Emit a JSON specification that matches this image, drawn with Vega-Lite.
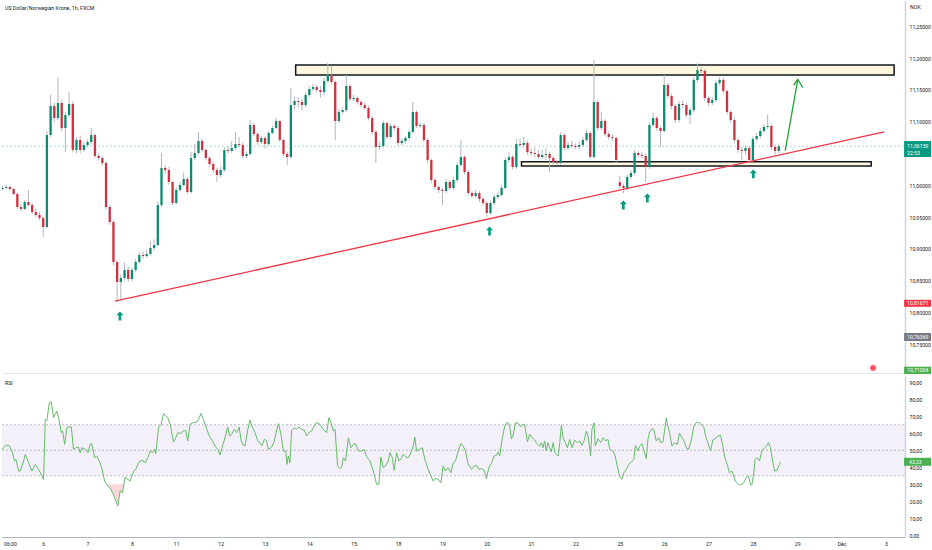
{
  "$schema": "https://vega.github.io/schema/vega-lite/v6.json",
  "padding": 0,
  "background": "#ffffff",
  "spacing": 1,
  "config": {
    "view": {"stroke": null},
    "font": "Roboto",
    "axis": {"grid": false, "ticks": false, "labelFontSize": 5.2, "labelColor": "#131722", "title": null}
  },
  "datasets": {
    "candles": [
      {"t":-4,"o":10.9942,"h":10.999,"l":10.992,"c":10.9958},
      {"t":-2,"o":10.9958,"h":11.001,"l":10.994,"c":10.9974},
      {"t":0,"o":10.9974,"h":10.9995,"l":10.992,"c":10.9942},
      {"t":2,"o":10.9942,"h":10.996,"l":10.984,"c":10.9864},
      {"t":4,"o":10.9864,"h":10.988,"l":10.963,"c":10.9659},
      {"t":6,"o":10.9659,"h":10.97,"l":10.959,"c":10.9628},
      {"t":8,"o":10.9628,"h":10.977,"l":10.961,"c":10.9738},
      {"t":10,"o":10.9738,"h":10.9927,"l":10.967,"c":10.9691},
      {"t":12,"o":10.9691,"h":10.972,"l":10.955,"c":10.9581},
      {"t":14,"o":10.9581,"h":10.964,"l":10.95,"c":10.9533},
      {"t":16,"o":10.9533,"h":10.958,"l":10.945,"c":10.9486},
      {"t":18,"o":10.9486,"h":10.951,"l":10.9188,"c":10.9345},
      {"t":20,"o":10.9345,"h":11.085,"l":10.932,"c":11.0791},
      {"t":22,"o":11.0791,"h":11.142,"l":11.076,"c":11.1247},
      {"t":24,"o":11.1247,"h":11.13,"l":11.099,"c":11.1059},
      {"t":26,"o":11.1059,"h":11.1703,"l":11.102,"c":11.1295},
      {"t":28,"o":11.1295,"h":11.134,"l":11.085,"c":11.0901},
      {"t":30,"o":11.0901,"h":11.115,"l":11.0524,"c":11.1106},
      {"t":32,"o":11.1106,"h":11.1467,"l":11.107,"c":11.1279},
      {"t":34,"o":11.1279,"h":11.132,"l":11.052,"c":11.0556},
      {"t":36,"o":11.0556,"h":11.076,"l":11.05,"c":11.0713},
      {"t":38,"o":11.0713,"h":11.078,"l":11.051,"c":11.0556},
      {"t":40,"o":11.0556,"h":11.068,"l":11.053,"c":11.0634},
      {"t":42,"o":11.0634,"h":11.072,"l":11.06,"c":11.0681},
      {"t":44,"o":11.0681,"h":11.0901,"l":11.065,"c":11.0791},
      {"t":46,"o":11.0791,"h":11.081,"l":11.043,"c":11.0461},
      {"t":48,"o":11.0461,"h":11.05,"l":11.039,"c":11.043},
      {"t":50,"o":11.043,"h":11.046,"l":11.031,"c":11.0351},
      {"t":52,"o":11.0351,"h":11.037,"l":10.962,"c":10.9659},
      {"t":54,"o":10.9659,"h":10.969,"l":10.938,"c":10.9423},
      {"t":56,"o":10.9423,"h":10.945,"l":10.874,"c":10.8795},
      {"t":58,"o":10.8795,"h":10.882,"l":10.8167,"c":10.848},
      {"t":60,"o":10.848,"h":10.86,"l":10.8197,"c":10.8543},
      {"t":62,"o":10.8543,"h":10.879,"l":10.85,"c":10.8669},
      {"t":64,"o":10.8669,"h":10.872,"l":10.848,"c":10.8527},
      {"t":66,"o":10.8527,"h":10.871,"l":10.849,"c":10.8669},
      {"t":68,"o":10.8669,"h":10.884,"l":10.864,"c":10.8795},
      {"t":70,"o":10.8795,"h":10.895,"l":10.877,"c":10.8905},
      {"t":72,"o":10.8905,"h":10.896,"l":10.885,"c":10.8889},
      {"t":74,"o":10.8889,"h":10.899,"l":10.886,"c":10.892},
      {"t":76,"o":10.892,"h":10.912,"l":10.889,"c":10.9015},
      {"t":78,"o":10.9015,"h":10.915,"l":10.898,"c":10.9062},
      {"t":80,"o":10.9062,"h":10.974,"l":10.904,"c":10.9691},
      {"t":82,"o":10.9691,"h":11.0508,"l":10.966,"c":11.0272},
      {"t":84,"o":11.0272,"h":11.032,"l":11.018,"c":11.0241},
      {"t":86,"o":11.0241,"h":11.029,"l":11.001,"c":11.0052},
      {"t":88,"o":11.0052,"h":11.008,"l":10.969,"c":10.9722},
      {"t":90,"o":10.9722,"h":10.997,"l":10.97,"c":10.9927},
      {"t":92,"o":10.9927,"h":11.006,"l":10.99,"c":11.0005},
      {"t":94,"o":11.0005,"h":11.02,"l":10.998,"c":11.01},
      {"t":96,"o":11.01,"h":11.013,"l":10.986,"c":10.9895},
      {"t":98,"o":10.9895,"h":11.052,"l":10.987,"c":11.043},
      {"t":100,"o":11.043,"h":11.065,"l":11.039,"c":11.0508},
      {"t":102,"o":11.0508,"h":11.0839,"l":11.048,"c":11.0697},
      {"t":104,"o":11.0697,"h":11.073,"l":11.052,"c":11.0556},
      {"t":106,"o":11.0556,"h":11.059,"l":11.039,"c":11.043},
      {"t":108,"o":11.043,"h":11.046,"l":11.029,"c":11.0335},
      {"t":110,"o":11.0335,"h":11.037,"l":11.02,"c":11.0241},
      {"t":112,"o":11.0241,"h":11.028,"l":11.0052,"c":11.0162},
      {"t":114,"o":11.0162,"h":11.029,"l":11.013,"c":11.0241},
      {"t":116,"o":11.0241,"h":11.06,"l":11.021,"c":11.0556},
      {"t":118,"o":11.0556,"h":11.062,"l":11.05,"c":11.054},
      {"t":120,"o":11.054,"h":11.07,"l":11.051,"c":11.0587},
      {"t":122,"o":11.0587,"h":11.0839,"l":11.056,"c":11.065},
      {"t":124,"o":11.065,"h":11.076,"l":11.06,"c":11.0634},
      {"t":126,"o":11.0634,"h":11.067,"l":11.042,"c":11.0461},
      {"t":128,"o":11.0461,"h":11.053,"l":11.043,"c":11.0493},
      {"t":130,"o":11.0493,"h":11.1027,"l":11.047,"c":11.0949},
      {"t":132,"o":11.0949,"h":11.098,"l":11.077,"c":11.0807},
      {"t":134,"o":11.0807,"h":11.084,"l":11.064,"c":11.0681},
      {"t":136,"o":11.0681,"h":11.078,"l":11.065,"c":11.0744},
      {"t":138,"o":11.0744,"h":11.077,"l":11.058,"c":11.065},
      {"t":140,"o":11.065,"h":11.086,"l":11.062,"c":11.0823},
      {"t":142,"o":11.0823,"h":11.094,"l":11.08,"c":11.0901},
      {"t":144,"o":11.0901,"h":11.106,"l":11.088,"c":11.1011},
      {"t":146,"o":11.1011,"h":11.103,"l":11.068,"c":11.0713},
      {"t":148,"o":11.0713,"h":11.074,"l":11.046,"c":11.0493},
      {"t":150,"o":11.0493,"h":11.053,"l":11.032,"c":11.0445},
      {"t":152,"o":11.0445,"h":11.153,"l":11.042,"c":11.1263},
      {"t":154,"o":11.1263,"h":11.14,"l":11.12,"c":11.1326},
      {"t":156,"o":11.1326,"h":11.138,"l":11.122,"c":11.131},
      {"t":158,"o":11.131,"h":11.136,"l":11.118,"c":11.1263},
      {"t":160,"o":11.1263,"h":11.146,"l":11.123,"c":11.142},
      {"t":162,"o":11.142,"h":11.156,"l":11.139,"c":11.1515},
      {"t":164,"o":11.1515,"h":11.16,"l":11.148,"c":11.1546},
      {"t":166,"o":11.1546,"h":11.158,"l":11.146,"c":11.1499},
      {"t":168,"o":11.1499,"h":11.156,"l":11.138,"c":11.1467},
      {"t":170,"o":11.1467,"h":11.17,"l":11.142,"c":11.164},
      {"t":172,"o":11.164,"h":11.1923,"l":11.161,"c":11.1735},
      {"t":174,"o":11.1735,"h":11.188,"l":11.159,"c":11.1625},
      {"t":176,"o":11.1625,"h":11.165,"l":11.0713,"c":11.1011},
      {"t":178,"o":11.1011,"h":11.12,"l":11.098,"c":11.1153},
      {"t":180,"o":11.1153,"h":11.123,"l":11.112,"c":11.1184},
      {"t":182,"o":11.1184,"h":11.1735,"l":11.115,"c":11.1562},
      {"t":184,"o":11.1562,"h":11.159,"l":11.132,"c":11.1357},
      {"t":186,"o":11.1357,"h":11.142,"l":11.132,"c":11.1373},
      {"t":188,"o":11.1373,"h":11.14,"l":11.127,"c":11.131},
      {"t":190,"o":11.131,"h":11.134,"l":11.123,"c":11.1263},
      {"t":192,"o":11.1263,"h":11.13,"l":11.118,"c":11.1216},
      {"t":194,"o":11.1216,"h":11.125,"l":11.102,"c":11.1059},
      {"t":196,"o":11.1059,"h":11.109,"l":11.08,"c":11.0839},
      {"t":198,"o":11.0839,"h":11.087,"l":11.0351,"c":11.0603},
      {"t":200,"o":11.0603,"h":11.068,"l":11.056,"c":11.0618},
      {"t":202,"o":11.0618,"h":11.102,"l":11.059,"c":11.098},
      {"t":204,"o":11.098,"h":11.1,"l":11.072,"c":11.076},
      {"t":206,"o":11.076,"h":11.098,"l":11.073,"c":11.0933},
      {"t":208,"o":11.0933,"h":11.096,"l":11.086,"c":11.0901},
      {"t":210,"o":11.0901,"h":11.093,"l":11.062,"c":11.0666},
      {"t":212,"o":11.0666,"h":11.074,"l":11.063,"c":11.0697},
      {"t":214,"o":11.0697,"h":11.078,"l":11.066,"c":11.0744},
      {"t":216,"o":11.0744,"h":11.088,"l":11.071,"c":11.0839},
      {"t":218,"o":11.0839,"h":11.131,"l":11.081,"c":11.1153},
      {"t":220,"o":11.1153,"h":11.118,"l":11.09,"c":11.0933},
      {"t":222,"o":11.0933,"h":11.099,"l":11.09,"c":11.0949},
      {"t":224,"o":11.0949,"h":11.098,"l":11.068,"c":11.0713},
      {"t":226,"o":11.0713,"h":11.074,"l":11.035,"c":11.0398},
      {"t":228,"o":11.0398,"h":11.042,"l":11.004,"c":11.0084},
      {"t":230,"o":11.0084,"h":11.011,"l":10.993,"c":10.9974},
      {"t":232,"o":10.9974,"h":11.0,"l":10.988,"c":10.9927},
      {"t":234,"o":10.9927,"h":10.996,"l":10.9691,"c":10.9911},
      {"t":236,"o":10.9911,"h":11.01,"l":10.988,"c":11.0052},
      {"t":238,"o":11.0052,"h":11.008,"l":10.992,"c":10.9958},
      {"t":240,"o":10.9958,"h":11.013,"l":10.993,"c":11.0084},
      {"t":242,"o":11.0084,"h":11.036,"l":11.005,"c":11.032},
      {"t":244,"o":11.032,"h":11.0713,"l":11.029,"c":11.0445},
      {"t":246,"o":11.0445,"h":11.048,"l":11.017,"c":11.021},
      {"t":248,"o":11.021,"h":11.024,"l":10.984,"c":10.9879},
      {"t":250,"o":10.9879,"h":10.991,"l":10.979,"c":10.9832},
      {"t":252,"o":10.9832,"h":10.993,"l":10.98,"c":10.9879},
      {"t":254,"o":10.9879,"h":10.991,"l":10.974,"c":10.9785},
      {"t":256,"o":10.9785,"h":10.982,"l":10.968,"c":10.9722},
      {"t":258,"o":10.9722,"h":10.975,"l":10.9502,"c":10.9565},
      {"t":260,"o":10.9565,"h":10.976,"l":10.953,"c":10.9722},
      {"t":262,"o":10.9722,"h":10.986,"l":10.969,"c":10.9817},
      {"t":264,"o":10.9817,"h":10.989,"l":10.978,"c":10.9848},
      {"t":266,"o":10.9848,"h":11.0,"l":10.982,"c":10.9958},
      {"t":268,"o":10.9958,"h":11.044,"l":10.993,"c":11.0398},
      {"t":270,"o":11.0398,"h":11.052,"l":11.036,"c":11.0445},
      {"t":272,"o":11.0445,"h":11.048,"l":11.025,"c":11.0288},
      {"t":274,"o":11.0288,"h":11.073,"l":11.026,"c":11.065},
      {"t":276,"o":11.065,"h":11.074,"l":11.06,"c":11.0634},
      {"t":278,"o":11.0634,"h":11.076,"l":11.06,"c":11.0666},
      {"t":280,"o":11.0666,"h":11.07,"l":11.048,"c":11.0524},
      {"t":282,"o":11.0524,"h":11.058,"l":11.046,"c":11.0508},
      {"t":284,"o":11.0508,"h":11.06,"l":11.045,"c":11.0493},
      {"t":286,"o":11.0493,"h":11.056,"l":11.041,"c":11.0445},
      {"t":288,"o":11.0445,"h":11.056,"l":11.042,"c":11.0477},
      {"t":290,"o":11.0477,"h":11.058,"l":11.04,"c":11.0493},
      {"t":292,"o":11.0493,"h":11.053,"l":11.021,"c":11.043},
      {"t":294,"o":11.043,"h":11.046,"l":11.033,"c":11.0367},
      {"t":296,"o":11.0367,"h":11.04,"l":11.031,"c":11.0351},
      {"t":298,"o":11.0351,"h":11.084,"l":11.032,"c":11.0791},
      {"t":300,"o":11.0791,"h":11.082,"l":11.055,"c":11.0587},
      {"t":302,"o":11.0587,"h":11.068,"l":11.056,"c":11.0634},
      {"t":304,"o":11.0634,"h":11.07,"l":11.059,"c":11.0618},
      {"t":306,"o":11.0618,"h":11.066,"l":11.057,"c":11.0603},
      {"t":308,"o":11.0603,"h":11.069,"l":11.057,"c":11.0634},
      {"t":310,"o":11.0634,"h":11.076,"l":11.06,"c":11.0713},
      {"t":312,"o":11.0713,"h":11.088,"l":11.068,"c":11.0823},
      {"t":314,"o":11.0823,"h":11.085,"l":11.041,"c":11.0445},
      {"t":316,"o":11.0445,"h":11.1971,"l":11.042,"c":11.131},
      {"t":318,"o":11.131,"h":11.134,"l":11.086,"c":11.0901},
      {"t":320,"o":11.0901,"h":11.115,"l":11.087,"c":11.1011},
      {"t":322,"o":11.1011,"h":11.104,"l":11.077,"c":11.0807},
      {"t":324,"o":11.0807,"h":11.085,"l":11.072,"c":11.076},
      {"t":326,"o":11.076,"h":11.08,"l":11.07,"c":11.0744},
      {"t":328,"o":11.0744,"h":11.077,"l":11.036,"c":11.0398},
      {"t":330,"o":11.005,"h":11.015,"l":10.995,"c":10.9989},
      {"t":332,"o":10.9989,"h":11.003,"l":10.9879,"c":10.9958},
      {"t":334,"o":10.9958,"h":11.017,"l":10.993,"c":11.0131},
      {"t":336,"o":11.0131,"h":11.024,"l":11.01,"c":11.0194},
      {"t":338,"o":11.0194,"h":11.056,"l":11.017,"c":11.0508},
      {"t":340,"o":11.0508,"h":11.054,"l":11.044,"c":11.0477},
      {"t":342,"o":11.0477,"h":11.052,"l":11.042,"c":11.0461},
      {"t":344,"o":11.0461,"h":11.05,"l":11.0052,"c":11.0288},
      {"t":346,"o":11.0288,"h":11.099,"l":11.026,"c":11.0949},
      {"t":348,"o":11.0949,"h":11.114,"l":11.092,"c":11.1059},
      {"t":350,"o":11.1059,"h":11.109,"l":11.086,"c":11.0901},
      {"t":352,"o":11.0901,"h":11.093,"l":11.0603,"c":11.0854},
      {"t":354,"o":11.0854,"h":11.1735,"l":11.083,"c":11.1578},
      {"t":356,"o":11.1578,"h":11.161,"l":11.136,"c":11.1405},
      {"t":358,"o":11.1405,"h":11.144,"l":11.12,"c":11.1247},
      {"t":360,"o":11.1247,"h":11.128,"l":11.098,"c":11.1027},
      {"t":362,"o":11.1027,"h":11.133,"l":11.099,"c":11.1279},
      {"t":364,"o":11.1279,"h":11.133,"l":11.122,"c":11.1263},
      {"t":366,"o":11.1263,"h":11.13,"l":11.106,"c":11.1106},
      {"t":368,"o":11.1106,"h":11.122,"l":11.0964,"c":11.1184},
      {"t":370,"o":11.1184,"h":11.17,"l":11.115,"c":11.1656},
      {"t":372,"o":11.1656,"h":11.1923,"l":11.162,"c":11.1813},
      {"t":374,"o":11.1813,"h":11.186,"l":11.176,"c":11.1798},
      {"t":376,"o":11.1798,"h":11.183,"l":11.133,"c":11.1373},
      {"t":378,"o":11.1373,"h":11.14,"l":11.125,"c":11.1295},
      {"t":380,"o":11.1295,"h":11.139,"l":11.126,"c":11.1342},
      {"t":382,"o":11.1342,"h":11.165,"l":11.131,"c":11.1609},
      {"t":384,"o":11.1609,"h":11.17,"l":11.157,"c":11.1656},
      {"t":386,"o":11.1656,"h":11.169,"l":11.144,"c":11.1483},
      {"t":388,"o":11.1483,"h":11.151,"l":11.111,"c":11.1153},
      {"t":390,"o":11.1153,"h":11.118,"l":11.098,"c":11.1027},
      {"t":392,"o":11.1027,"h":11.106,"l":11.066,"c":11.0713},
      {"t":394,"o":11.0713,"h":11.075,"l":11.051,"c":11.0556},
      {"t":396,"o":11.0556,"h":11.06,"l":11.0398,"c":11.054},
      {"t":398,"o":11.054,"h":11.063,"l":11.048,"c":11.0587},
      {"t":400,"o":11.0587,"h":11.062,"l":11.0351,"c":11.0398},
      {"t":402,"o":11.0398,"h":11.077,"l":11.037,"c":11.0728},
      {"t":404,"o":11.0728,"h":11.082,"l":11.069,"c":11.0776},
      {"t":406,"o":11.0776,"h":11.09,"l":11.074,"c":11.0854},
      {"t":408,"o":11.0854,"h":11.096,"l":11.082,"c":11.0917},
      {"t":410,"o":11.0917,"h":11.1106,"l":11.088,"c":11.0933},
      {"t":412,"o":11.0933,"h":11.096,"l":11.056,"c":11.0603},
      {"t":414,"o":11.0603,"h":11.064,"l":11.048,"c":11.054},
      {"t":416,"o":11.054,"h":11.066,"l":11.05,"c":11.0616}
    ],
    "rsi": [
      {"t":-4.3,"r":50.6},{"t":-2.5,"r":52.5},{"t":-0.7,"r":53.1},{"t":1.1,"r":49.6},{"t":2.5,"r":43.7},{"t":3.2,"r":44.7},{"t":4.7,"r":37.8},{"t":5.6,"r":37.8},{"t":7.4,"r":43.7},{"t":8.3,"r":47.6},
      {"t":10.1,"r":42.7},{"t":11.9,"r":37.8},{"t":13.7,"r":41.7},{"t":15.5,"r":38.8},{"t":17.3,"r":34.9},{"t":18.2,"r":32.9},{"t":19.1,"r":68.2},{"t":20.0,"r":67.6},{"t":21.3,"r":78.0},{"t":22.3,"r":78.6},
      {"t":23.6,"r":69.2},{"t":24.5,"r":71.2},{"t":25.4,"r":73.1},{"t":26.3,"r":69.2},{"t":27.8,"r":60.4},{"t":28.5,"r":61.4},{"t":29.6,"r":53.5},{"t":30.8,"r":63.3},{"t":31.7,"r":63.7},{"t":33.2,"r":63.7},
      {"t":34.4,"r":50.6},{"t":35.7,"r":51.5},{"t":37.1,"r":51.9},{"t":38.0,"r":48.6},{"t":38.9,"r":51.5},{"t":40.7,"r":50.6},{"t":42.2,"r":48.6},{"t":43.4,"r":53.5},{"t":44.3,"r":53.9},{"t":45.8,"r":45.6},
      {"t":47.0,"r":46.6},{"t":48.3,"r":43.7},{"t":49.7,"r":39.8},{"t":51.2,"r":31.9},{"t":53.0,"r":29.0},{"t":54.2,"r":28.0},{"t":55.5,"r":25.1},{"t":56.9,"r":21.2},{"t":58.4,"r":17.2},{"t":59.6,"r":26.1},
      {"t":60.9,"r":25.1},{"t":62.3,"r":34.3},{"t":63.8,"r":32.9},{"t":65.0,"r":31.9},{"t":66.9,"r":37.8},{"t":68.1,"r":38.8},{"t":69.9,"r":43.3},{"t":71.4,"r":44.1},{"t":73.2,"r":42.7},{"t":74.6,"r":45.6},
      {"t":75.9,"r":49.6},{"t":77.1,"r":48.6},{"t":78.2,"r":50.6},{"t":78.9,"r":48.0},{"t":80.4,"r":63.3},{"t":81.8,"r":65.3},{"t":83.1,"r":71.6},{"t":84.3,"r":70.2},{"t":85.4,"r":69.2},{"t":86.7,"r":65.3},
      {"t":88.5,"r":54.9},{"t":89.4,"r":56.5},{"t":90.8,"r":60.4},{"t":92.1,"r":59.8},{"t":93.9,"r":61.4},{"t":95.1,"r":61.7},{"t":96.2,"r":55.5},{"t":97.5,"r":65.3},{"t":99.3,"r":66.3},{"t":101.1,"r":66.6},
      {"t":102.0,"r":68.2},{"t":103.4,"r":71.6},{"t":104.7,"r":68.2},{"t":106.5,"r":62.3},{"t":108.3,"r":57.4},{"t":109.6,"r":55.5},{"t":111.0,"r":52.5},{"t":112.4,"r":50.6},{"t":113.7,"r":47.2},{"t":115.0,"r":52.5},
      {"t":116.4,"r":57.4},{"t":117.8,"r":63.7},{"t":118.9,"r":58.4},{"t":120.0,"r":59.4},{"t":121.4,"r":62.3},{"t":122.7,"r":60.4},{"t":124.0,"r":63.7},{"t":125.1,"r":55.5},{"t":126.1,"r":53.1},{"t":127.2,"r":52.5},
      {"t":128.7,"r":62.3},{"t":129.9,"r":67.8},{"t":131.2,"r":63.3},{"t":132.6,"r":60.4},{"t":134.1,"r":55.5},{"t":135.3,"r":54.5},{"t":136.2,"r":52.5},{"t":137.7,"r":56.5},{"t":138.9,"r":55.5},{"t":139.8,"r":50.6},
      {"t":141.6,"r":51.9},{"t":143.1,"r":55.5},{"t":144.0,"r":60.4},{"t":145.2,"r":65.7},{"t":146.7,"r":59.4},{"t":147.9,"r":49.6},{"t":149.2,"r":49.6},{"t":149.9,"r":41.7},{"t":150.6,"r":46.6},{"t":151.5,"r":42.7},
      {"t":152.4,"r":61.7},{"t":153.9,"r":63.3},{"t":155.1,"r":62.3},{"t":156.4,"r":63.7},{"t":157.8,"r":62.3},{"t":159.3,"r":61.9},{"t":160.5,"r":58.4},{"t":161.8,"r":60.4},{"t":163.2,"r":61.4},{"t":164.7,"r":64.3},
      {"t":165.9,"r":66.3},{"t":167.7,"r":65.3},{"t":169.5,"r":62.3},{"t":171.4,"r":60.4},{"t":172.6,"r":69.2},{"t":173.7,"r":66.3},{"t":175.0,"r":61.4},{"t":175.9,"r":62.3},{"t":177.3,"r":40.8},{"t":178.6,"r":39.2},
      {"t":179.5,"r":40.2},{"t":180.4,"r":45.6},{"t":181.6,"r":43.7},{"t":183.1,"r":57.4},{"t":184.5,"r":51.5},{"t":185.8,"r":53.5},{"t":187.0,"r":53.9},{"t":188.5,"r":49.6},{"t":190.3,"r":49.6},{"t":191.7,"r":50.6},
      {"t":193.0,"r":46.1},{"t":194.8,"r":43.7},{"t":196.6,"r":37.8},{"t":198.4,"r":30.0},{"t":199.6,"r":30.0},{"t":200.7,"r":46.1},{"t":202.0,"r":39.8},{"t":203.2,"r":40.8},{"t":204.7,"r":43.7},{"t":205.6,"r":48.6},
      {"t":206.9,"r":45.6},{"t":207.9,"r":38.2},{"t":209.2,"r":48.6},{"t":210.5,"r":43.7},{"t":211.5,"r":44.7},{"t":212.8,"r":47.6},{"t":214.1,"r":46.1},{"t":215.5,"r":45.6},{"t":217.0,"r":48.6},{"t":218.2,"r":52.5},
      {"t":219.1,"r":57.8},{"t":220.0,"r":49.6},{"t":221.8,"r":50.6},{"t":223.1,"r":51.5},{"t":224.5,"r":44.7},{"t":226.3,"r":38.8},{"t":227.8,"r":34.9},{"t":229.0,"r":31.9},{"t":230.3,"r":33.5},{"t":231.7,"r":32.9},
      {"t":233.2,"r":31.0},{"t":234.4,"r":40.8},{"t":235.7,"r":37.8},{"t":237.1,"r":39.8},{"t":238.6,"r":36.9},{"t":239.8,"r":42.7},{"t":241.1,"r":43.7},{"t":242.5,"r":49.6},{"t":244.0,"r":53.9},{"t":245.2,"r":52.5},
      {"t":246.5,"r":49.6},{"t":247.9,"r":42.1},{"t":249.7,"r":38.8},{"t":251.2,"r":40.8},{"t":252.4,"r":41.2},{"t":253.7,"r":38.8},{"t":255.1,"r":39.2},{"t":256.6,"r":38.2},{"t":257.8,"r":33.3},{"t":259.1,"r":39.8},
      {"t":260.5,"r":42.3},{"t":262.0,"r":46.6},{"t":263.2,"r":47.0},{"t":264.1,"r":49.0},{"t":265.0,"r":46.6},{"t":266.3,"r":56.4},{"t":267.7,"r":64.3},{"t":269.2,"r":66.6},{"t":270.4,"r":64.3},{"t":271.3,"r":56.8},
      {"t":272.2,"r":58.4},{"t":273.5,"r":66.2},{"t":274.9,"r":65.9},{"t":276.4,"r":63.9},{"t":277.6,"r":65.3},{"t":278.5,"r":65.3},{"t":280.0,"r":54.9},{"t":281.2,"r":59.4},{"t":282.5,"r":57.4},{"t":283.9,"r":56.0},
      {"t":285.4,"r":53.5},{"t":286.6,"r":52.5},{"t":287.5,"r":54.5},{"t":288.4,"r":51.5},{"t":289.3,"r":55.5},{"t":290.2,"r":49.6},{"t":291.1,"r":54.5},{"t":292.1,"r":51.5},{"t":292.9,"r":49.0},{"t":293.9,"r":54.5},
      {"t":294.8,"r":48.6},{"t":295.6,"r":47.6},{"t":296.6,"r":46.6},{"t":297.5,"r":54.5},{"t":298.4,"r":64.7},{"t":299.3,"r":57.4},{"t":300.5,"r":54.5},{"t":301.6,"r":51.5},{"t":302.9,"r":56.4},{"t":304.1,"r":51.5},
      {"t":305.6,"r":56.0},{"t":307.0,"r":54.5},{"t":308.3,"r":55.5},{"t":309.5,"r":52.9},{"t":310.6,"r":55.5},{"t":311.9,"r":61.3},{"t":312.8,"r":58.4},{"t":314.2,"r":46.6},{"t":314.9,"r":62.3},{"t":316.0,"r":66.2},
      {"t":316.7,"r":52.5},{"t":318.2,"r":56.8},{"t":319.6,"r":54.5},{"t":320.9,"r":57.4},{"t":322.1,"r":55.5},{"t":323.6,"r":56.4},{"t":324.5,"r":50.6},{"t":326.3,"r":49.6},{"t":327.5,"r":46.6},{"t":328.6,"r":40.8},
      {"t":329.9,"r":34.9},{"t":331.1,"r":32.9},{"t":332.2,"r":36.8},{"t":333.5,"r":38.8},{"t":334.8,"r":41.7},{"t":336.2,"r":43.1},{"t":337.6,"r":44.7},{"t":338.4,"r":52.9},{"t":339.8,"r":49.6},{"t":340.7,"r":52.5},
      {"t":342.0,"r":53.9},{"t":343.0,"r":50.2},{"t":344.3,"r":45.1},{"t":345.2,"r":56.4},{"t":346.1,"r":60.8},{"t":347.4,"r":62.7},{"t":348.4,"r":62.3},{"t":349.7,"r":55.5},{"t":351.0,"r":57.4},{"t":352.1,"r":54.5},
      {"t":353.3,"r":54.9},{"t":354.2,"r":61.3},{"t":355.1,"r":69.0},{"t":356.0,"r":64.3},{"t":356.9,"r":60.4},{"t":358.2,"r":52.5},{"t":359.6,"r":54.5},{"t":361.1,"r":53.5},{"t":362.3,"r":60.0},{"t":363.6,"r":57.4},
      {"t":365.0,"r":54.9},{"t":365.9,"r":51.5},{"t":367.2,"r":50.6},{"t":368.6,"r":55.5},{"t":370.1,"r":64.3},{"t":371.3,"r":66.2},{"t":372.6,"r":66.6},{"t":374.0,"r":65.3},{"t":375.5,"r":63.3},{"t":376.2,"r":59.4},
      {"t":377.6,"r":54.5},{"t":379.1,"r":49.6},{"t":380.3,"r":56.0},{"t":381.6,"r":56.8},{"t":383.0,"r":58.4},{"t":384.5,"r":58.8},{"t":385.7,"r":52.5},{"t":386.6,"r":46.6},{"t":388.1,"r":41.7},{"t":389.3,"r":36.8},
      {"t":390.6,"r":37.8},{"t":391.7,"r":34.9},{"t":392.4,"r":31.9},{"t":393.5,"r":31.0},{"t":394.7,"r":29.6},{"t":396.0,"r":30.0},{"t":397.1,"r":31.0},{"t":398.4,"r":33.9},{"t":399.6,"r":34.9},{"t":400.7,"r":30.0},
      {"t":401.4,"r":29.4},{"t":402.5,"r":36.8},{"t":403.2,"r":44.7},{"t":404.3,"r":45.7},{"t":405.6,"r":43.7},{"t":406.8,"r":49.6},{"t":408.3,"r":51.5},{"t":409.7,"r":52.9},{"t":410.4,"r":54.5},{"t":411.5,"r":51.5},
      {"t":412.2,"r":46.6},{"t":413.7,"r":37.8},{"t":415.1,"r":38.4},{"t":416.4,"r":41.7},{"t":416.8,"r":43.2}
    ]
  },
  "vconcat": [
    {
      "width": 903,
      "height": 373,
      "encoding": {
        "x": {"field": "t", "type": "quantitative", "scale": {"domain": [-4.3, 484.3], "nice": false, "zero": false},
              "axis": {"labels": false, "domain": true, "domainColor": "#e0e3eb", "domainWidth": 1}},
        "y": {"field": "p", "type": "quantitative", "scale": {"domain": [10.7049, 11.2914], "nice": false, "zero": false},
              "axis": {"orient": "right", "values": [10.75, 10.8, 10.85, 10.9, 10.95, 11, 11.1, 11.15, 11.2, 11.25],
                       "labelExpr": "replace(format(datum.value, '.5f'), '.', ',')", "domainColor": "#d1d4dc", "domainWidth": 1.5, "labelPadding": 4}}
      },
      "layer": [
        {
          "data": {"values": [{"t": -4.3, "p": 11.06159}, {"t": 484.3, "p": 11.06159}]},
          "mark": {"type": "line", "color": "#089981", "opacity": 0.35, "strokeWidth": 1, "strokeDash": [2, 2]}
        },
        {
          "data": {"values": [
            {"t": 154.6, "t2": 478.4, "p": 11.1735, "p2": 11.1892},
            {"t": 276.8, "t2": 466, "p": 11.0304, "p2": 11.0372}
          ]},
          "mark": {"type": "rect", "fill": "#fff8dc", "stroke": "#131722", "strokeWidth": 1.5},
          "encoding": {"x2": {"field": "t2"}, "y2": {"field": "p2"}}
        },
        {
          "data": {"name": "candles"},
          "mark": {"type": "rule", "color": "#b2b5be", "strokeWidth": 1, "clip": true},
          "encoding": {
            "y": {"field": "l", "type": "quantitative", "scale": {"domain": [10.7049, 11.2914], "nice": false, "zero": false}},
            "y2": {"field": "h"}
          }
        },
        {
          "data": {"name": "candles"},
          "mark": {"type": "rule", "strokeWidth": 2.3, "clip": true},
          "encoding": {
            "y": {"field": "o", "type": "quantitative", "scale": {"domain": [10.7049, 11.2914], "nice": false, "zero": false}},
            "y2": {"field": "c"},
            "color": {"condition": {"test": "datum.c >= datum.o", "value": "#0b8c70"}, "value": "#d0303f"}
          }
        },
        {
          "data": {"values": [{"t": 56.8, "p": 10.818}, {"t": 473, "p": 11.0839}]},
          "mark": {"type": "line", "color": "#f23645", "strokeWidth": 1.3}
        },
        {
          "data": {"values": [
            {"t": 419.5, "p": 11.0545, "s": "a"}, {"t": 426.3, "p": 11.1667, "s": "a"},
            {"t": 424.0, "p": 11.1575, "s": "b"}, {"t": 426.3, "p": 11.1667, "s": "b"}, {"t": 429.0, "p": 11.1535, "s": "b"}
          ]},
          "mark": {"type": "line", "color": "#1fa33a", "strokeWidth": 1.3},
          "encoding": {"detail": {"field": "s"}}
        },
        {
          "data": {"values": [
            {"t": 59.5, "p": 10.7946}, {"t": 259.5, "p": 10.9282}, {"t": 331.9, "p": 10.969},
            {"t": 344.9, "p": 10.98}, {"t": 402.2, "p": 11.018}
          ]},
          "mark": {"type": "point", "filled": true, "shape": "M0,-1L0.8,-0.15L0.3,-0.15L0.3,1L-0.3,1L-0.3,-0.15L-0.8,-0.15Z", "size": 80, "color": "#089981", "opacity": 1}
        },
        {
          "data": {"values": [{"t": 467, "p": 10.7128}]},
          "mark": {"type": "point", "filled": true, "shape": "circle", "size": 45, "color": "#f23645", "opacity": 0.85, "stroke": "#ffffff", "strokeWidth": 0.8}
        },
        {
          "data": {"values": [
            {"t": -2.7, "p": 11.2788, "label": "US Dollar/Norwegian Krone, 1h, FXCM"},
            {"t": 487.0, "p": 11.2806, "label": "NOK"}
          ]},
          "mark": {"type": "text", "align": "left", "baseline": "middle", "fontSize": 5.3, "color": "#131722"},
          "encoding": {"text": {"field": "label"}}
        },
        {
          "data": {"values": [
            {"t": 483.8, "t2": 498.4, "p": 11.0445, "p2": 11.0697, "col": "#089981"},
            {"t": 483.8, "t2": 498.4, "p": 10.809, "p2": 10.82, "col": "#f23645"},
            {"t": 483.8, "t2": 498.4, "p": 10.7552, "p2": 10.7678, "col": "#787b86"},
            {"t": 483.8, "t2": 498.4, "p": 10.7033, "p2": 10.7148, "col": "#4caf50"}
          ]},
          "mark": {"type": "rect"},
          "encoding": {"x2": {"field": "t2"}, "y2": {"field": "p2"}, "color": {"field": "col", "type": "nominal", "scale": null}}
        },
        {
          "data": {"values": [
            {"t": 485.4, "p": 11.0619, "label": "11,06159"},
            {"t": 485.4, "p": 11.0508, "label": "22:53"},
            {"t": 485.4, "p": 10.8145, "label": "10,81671"},
            {"t": 485.4, "p": 10.7615, "label": "10,76369"},
            {"t": 485.4, "p": 10.709, "label": "10,71004"}
          ]},
          "mark": {"type": "text", "align": "left", "baseline": "middle", "fontSize": 5.2, "color": "#ffffff"},
          "encoding": {"text": {"field": "label"}}
        }
      ]
    },
    {
      "width": 903,
      "height": 161,
      "encoding": {
        "x": {"field": "t", "type": "quantitative", "scale": {"domain": [-4.3, 484.3], "nice": false, "zero": false},
              "axis": {"values": [0, 18, 42, 66, 90, 114, 138, 162, 186, 210, 234, 258, 282, 306, 330, 354, 378, 402, 426, 450, 474],
                       "labelExpr": "['06:00','6','7','8','11','12','13','14','15','18','19','20','21','22','25','26','27','28','29','Déc','3'][indexof([0,18,42,66,90,114,138,162,186,210,234,258,282,306,330,354,378,402,426,450,474], datum.value)]",
                       "domainColor": "#b2b5be", "domainWidth": 1, "labelPadding": 4}},
        "y": {"field": "r", "type": "quantitative", "scale": {"domain": [-1, 93.7], "nice": false, "zero": false},
              "axis": {"orient": "right", "values": [0, 10, 20, 30, 40, 50, 60, 70, 80, 90],
                       "labelExpr": "replace(format(datum.value, '.2f'), '.', ',')", "domainColor": "#d1d4dc", "domainWidth": 1.5, "labelPadding": 4}}
      },
      "layer": [
        {
          "data": {"values": [{"t": -4.3, "t2": 484.3, "r": 35, "r2": 65}]},
          "mark": {"type": "rect", "color": "#7e57c2", "opacity": 0.09},
          "encoding": {"x2": {"field": "t2"}, "y2": {"field": "r2"}}
        },
        {
          "data": {"values": [
            {"t": -4.3, "r": 65, "k": "u"}, {"t": 484.3, "r": 65, "k": "u"},
            {"t": -4.3, "r": 50, "k": "m"}, {"t": 484.3, "r": 50, "k": "m"},
            {"t": -4.3, "r": 35, "k": "d"}, {"t": 484.3, "r": 35, "k": "d"}
          ]},
          "mark": {"type": "line", "color": "#9598a1", "strokeWidth": 0.8, "strokeDash": [2, 2], "opacity": 0.8},
          "encoding": {"detail": {"field": "k"}}
        },
        {
          "data": {"values": [
            {"t": 52.4, "r": 30}, {"t": 53.0, "r": 29.0}, {"t": 54.2, "r": 28.0}, {"t": 55.5, "r": 25.1},
            {"t": 56.9, "r": 21.2}, {"t": 58.4, "r": 17.2}, {"t": 59.6, "r": 26.1}, {"t": 60.9, "r": 25.1}, {"t": 61.6, "r": 30}
          ]},
          "mark": {"type": "area", "color": "#f23645", "opacity": 0.2},
          "encoding": {"y2": {"datum": 30}}
        },
        {
          "data": {"name": "rsi"},
          "mark": {"type": "line", "color": "#66bb6a", "strokeWidth": 1}
        },
        {
          "data": {"values": [{"t": -2.7, "r": 89.6, "label": "RSI"}]},
          "mark": {"type": "text", "align": "left", "baseline": "middle", "fontSize": 5.3, "color": "#131722"},
          "encoding": {"text": {"field": "label"}}
        },
        {
          "data": {"values": [{"t": 483.8, "t2": 498.4, "r": 40.9, "r2": 45.6}]},
          "mark": {"type": "rect", "color": "#4caf50"},
          "encoding": {"x2": {"field": "t2"}, "y2": {"field": "r2"}}
        },
        {
          "data": {"values": [{"t": 486.5, "r": 43.23, "label": "43,23"}]},
          "mark": {"type": "text", "align": "left", "baseline": "middle", "fontSize": 5.2, "color": "#ffffff"},
          "encoding": {"text": {"field": "label"}}
        }
      ]
    }
  ]
}
